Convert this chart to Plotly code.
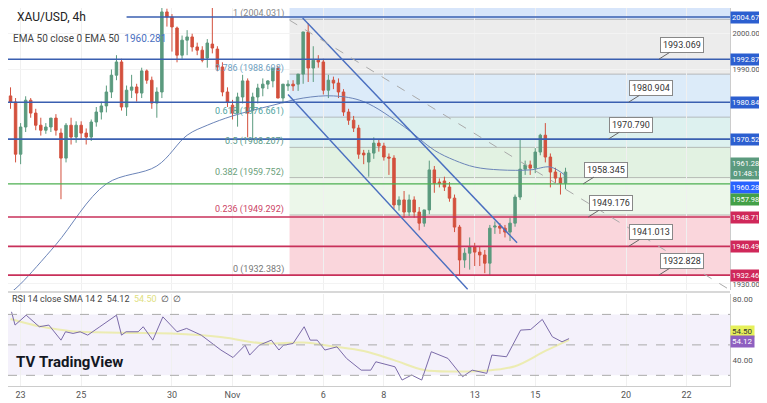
import plotly.graph_objects as go

# 4h candles, index 0 = Oct 23 00:00
opens = [1982.6, 1980.9, 1966.3, 1973.9, 1981.4, 1977.8, 1974.4, 1973.0, 1973.9, 1976.4,
         1972.2, 1965.2, 1974.4, 1971.1, 1974.4, 1972.2, 1971.1, 1975.3, 1978.1, 1979.8,
         1983.7, 1988.4, 1992.1, 1979.5, 1984.2, 1985.1, 1983.4, 1989.6, 1987.0, 1980.6,
         1983.7, 2006.1, 2004.7, 2001.6, 1994.0, 1998.2, 1999.1, 1996.3, 1995.4, 1993.2,
         1997.1, 1995.7, 1990.7, 1983.7, 1980.0, 1977.8, 1982.3, 1986.8, 1978.6, 1982.3,
         1984.8, 1985.9, 1986.8, 1990.4, 1982.0, 1985.4, 1985.9, 1985.9, 1988.7, 2000.5,
         1990.4, 1992.6, 1992.1, 1984.2, 1987.0, 1986.2, 1983.7, 1978.1, 1975.8, 1973.6,
         1966.6, 1964.1, 1966.6, 1969.4, 1968.6, 1965.5, 1965.2, 1952.1, 1953.5, 1950.1,
         1953.5, 1950.1, 1947.0, 1950.7, 1961.9, 1958.5, 1958.8, 1957.1, 1954.0, 1945.9,
         1936.7, 1938.6, 1940.3, 1938.9, 1938.1, 1935.8, 1945.9, 1946.2, 1945.6, 1944.5,
         1947.0, 1954.3, 1962.1, 1963.3, 1962.4, 1966.9, 1971.6, 1965.5, 1961.3, 1959.6,
         1958.2]
closes = [1980.9, 1966.3, 1973.9, 1981.4, 1977.8, 1974.4, 1973.0, 1973.9, 1976.4, 1973.0,
          1965.2, 1974.4, 1971.1, 1974.4, 1972.2, 1971.1, 1975.3, 1978.1, 1979.8, 1983.7,
          1988.4, 1992.1, 1979.5, 1984.2, 1985.1, 1983.4, 1989.6, 1987.0, 1980.6, 1983.7,
          2006.1, 2004.7, 2001.9, 1994.0, 1998.2, 1999.1, 1996.3, 1995.4, 1992.6, 1997.4,
          1996.0, 1990.7, 1983.7, 1980.9, 1977.8, 1982.3, 1986.8, 1977.8, 1982.3, 1984.8,
          1985.9, 1986.8, 1990.4, 1982.0, 1985.9, 1985.9, 1985.4, 1988.7, 2000.5, 1990.4,
          1992.6, 1992.1, 1984.2, 1987.0, 1986.2, 1983.7, 1978.1, 1975.8, 1973.6, 1966.3,
          1966.1, 1966.6, 1969.4, 1968.6, 1965.5, 1965.2, 1952.1, 1953.5, 1950.1, 1953.5,
          1950.1, 1947.0, 1950.7, 1961.9, 1958.2, 1958.2, 1957.1, 1954.0, 1945.9, 1936.7,
          1938.6, 1940.3, 1938.9, 1938.1, 1935.8, 1945.6, 1946.2, 1945.6, 1944.5, 1947.0,
          1954.3, 1962.1, 1963.3, 1962.4, 1966.9, 1971.6, 1965.5, 1961.3, 1959.6, 1958.2,
          1961.3]
highs = [1985.0, 1982.0, 1975.0, 1982.5, 1982.0, 1979.0, 1976.5, 1975.0, 1975.5, 1977.5,
         1973.5, 1975.0, 1976.5, 1975.5, 1975.5, 1973.5, 1976.0, 1979.5, 1981.0, 1985.5,
         1990.0, 1994.0, 1993.0, 1985.5, 1988.5, 1986.0, 1990.5, 1990.0, 1988.0, 1985.0,
         2009.0, 2007.0, 2005.5, 2002.0, 1999.5, 2001.0, 2000.0, 1997.5, 1996.5, 1998.5,
         2009.0, 1996.5, 1992.0, 1985.0, 1981.5, 1983.5, 1988.5, 1987.5, 1983.5, 1986.0,
         1987.5, 1987.0, 1988.0, 1991.0, 1984.5, 1987.0, 1987.0, 1987.0, 1990.5, 2003.0,
         1996.5, 1994.0, 1993.0, 1988.5, 1988.0, 1987.5, 1984.5, 1979.0, 1977.0, 1974.5,
         1967.5, 1967.5, 1971.0, 1970.5, 1969.5, 1966.5, 1966.0, 1954.5, 1956.0, 1955.0,
         1954.5, 1951.5, 1950.0, 1964.5, 1963.0, 1959.5, 1960.0, 1958.5, 1955.0, 1946.5,
         1940.0, 1943.0, 1941.5, 1940.5, 1939.5, 1946.5, 1947.5, 1947.0, 1946.5, 1948.5,
         1955.0, 1970.5, 1964.5, 1964.5, 1968.0, 1972.0, 1975.0, 1966.5, 1962.5, 1961.0,
         1962.5]
lows = [1979.0, 1964.0, 1963.5, 1972.5, 1976.5, 1973.0, 1971.5, 1972.0, 1972.5, 1971.5,
        1953.7, 1964.0, 1969.0, 1969.5, 1970.5, 1969.0, 1970.0, 1974.0, 1976.0, 1978.0,
        1982.0, 1987.0, 1978.5, 1977.0, 1982.0, 1981.0, 1982.0, 1986.0, 1979.0, 1976.5,
        1982.0, 2002.0, 1995.0, 1992.0, 1993.0, 1994.0, 1995.0, 1994.0, 1992.0, 1990.5,
        1994.5, 1989.5, 1982.5, 1979.5, 1976.0, 1974.0, 1980.5, 1971.0, 1970.3, 1980.5,
        1982.5, 1984.5, 1985.0, 1982.5, 1980.5, 1984.0, 1984.0, 1984.0, 1986.0, 1986.5,
        1986.5, 1990.5, 1983.0, 1982.0, 1984.5, 1982.0, 1977.0, 1974.5, 1972.5, 1965.0,
        1963.5, 1960.0, 1965.0, 1967.0, 1964.5, 1960.5, 1951.0, 1950.5, 1948.5, 1949.0,
        1948.5, 1945.0, 1946.0, 1949.5, 1955.5, 1957.0, 1956.0, 1953.0, 1944.5, 1932.4,
        1934.5, 1934.0, 1935.0, 1935.0, 1933.0, 1932.4, 1944.0, 1944.0, 1943.0, 1942.0,
        1946.0, 1953.5, 1960.5, 1960.5, 1961.0, 1966.0, 1964.0, 1957.0, 1958.0, 1955.0,
        1956.5]

ema_x = [-2, 0, 7, 17, 27, 33, 37, 42, 50, 56, 62, 68, 76, 82, 86, 90, 95, 101, 105, 108]
ema_y = [1927.5, 1930.0, 1941.0, 1958.0, 1963.0, 1971.6, 1974.4, 1977.0, 1980.0, 1982.0,
         1982.6, 1981.0, 1974.0, 1967.4, 1964.6, 1962.7, 1961.9, 1961.9, 1962.7, 1960.3]

rsi_x = [-1.8, -1.1, 1.1, 3.7, 5.6, 8.0, 8.9, 10.4, 11.8, 13.3, 15.7, 19.0, 20.0, 20.9, 23.3,
         24.3, 26.2, 28.2, 31.0, 32.9, 35.8, 39.7, 42.1, 44.5, 45.4, 47.3, 49.7, 51.2, 52.1,
         54.0, 56.2, 57.4, 58.8, 60.3, 62.7, 64.6, 67.5, 69.4, 70.4, 74.2, 75.6, 77.5, 79.5,
         81.4, 84.7, 87.6, 89.5, 92.4, 93.4, 96.3, 99.1, 101.1, 103.4, 105.4, 107.3, 108.7]
rsi_y = [71.7, 63.0, 69.5, 61.9, 63.0, 53.1, 58.6, 57.5, 58.6, 56.4, 61.9, 69.5, 56.4, 58.6,
         58.6, 61.9, 53.1, 68.4, 58.6, 60.8, 56.4, 46.6, 41.7, 49.8, 43.3, 49.8, 53.1, 46.6,
         49.8, 50.9, 61.9, 53.1, 53.1, 46.6, 48.7, 41.1, 33.4, 33.4, 38.9, 35.6, 26.9, 30.2,
         26.9, 45.5, 41.1, 29.1, 33.4, 31.3, 43.3, 42.2, 59.7, 60.1, 66.7, 55.3, 52.0, 54.12]
sma_x = [-2, 4, 10, 20, 30, 40, 48, 56, 62, 68, 74, 80, 86, 92, 98, 104, 108.7]
sma_y = [67.0, 62.0, 59.0, 58.0, 57.5, 55.0, 51.0, 51.5, 49.0, 46.0, 40.0, 33.5, 32.5, 33.0,
         36.0, 46.0, 53.3]

tick_pos = [0, 12, 30, 42, 60, 72, 90, 102, 120, 132]
tick_text = ["23", "25", "30", "Nov", "6", "8", "13", "15", "20", "22"]

fib_levels = [2004.031, 1988.698, 1976.661, 1968.207, 1959.752, 1949.292, 1932.383]
fib_names = ["1", "0.786", "0.618", "0.5", "0.382", "0.236", "0"]
fib_text_col = ["#888", "#6f9fbf", "#4fa3a0", "#5a9a8a", "#6aa07a", "#cc4466", "#777"]
fib_fill = ["rgba(200,200,200,0.35)", "rgba(140,190,235,0.3)", "rgba(120,200,190,0.25)",
            "rgba(150,210,150,0.28)", "rgba(180,225,170,0.25)", "rgba(240,120,140,0.3)"]

blue_levels = [2004.673, 1992.875, 1980.840, 1970.521]
red_levels = [1948.717, 1940.490, 1932.467]
green_level = 1957.986

callouts = [(1993.069, 131, 1992.875), (1980.904, 125, 1980.84), (1970.790, 121, 1970.521),
            (1958.345, 116, 1957.986), (1949.176, 117, 1948.717), (1941.013, 125, 1940.49),
            (1932.828, 131, 1932.467)]

XMIN, XMAX = -2.5, 140.6
FIB_X0 = 53.3

fig = go.Figure()
fig.add_trace(go.Candlestick(
    x=list(range(-2, -2 + len(opens))), open=opens, high=highs, low=lows, close=closes,
    increasing=dict(line=dict(color="#5b9a7e", width=1), fillcolor="#5b9a7e"),
    decreasing=dict(line=dict(color="#d3503d", width=1), fillcolor="#d3503d"),
    whiskerwidth=0, xaxis="x", yaxis="y", showlegend=False))
fig.add_trace(go.Scatter(x=ema_x, y=ema_y, mode="lines", line=dict(color="#6b84b8", width=1, shape="spline"),
                         xaxis="x", yaxis="y", showlegend=False))
fig.add_trace(go.Scatter(x=sma_x, y=sma_y, mode="lines", line=dict(color="rgba(235,235,170,0.9)", width=2, shape="spline"),
                         xaxis="x", yaxis="y2", showlegend=False))
fig.add_trace(go.Scatter(x=rsi_x, y=rsi_y, mode="lines", line=dict(color="#7a6aa8", width=1),
                         xaxis="x", yaxis="y2", showlegend=False))

shapes = []
# fib zones
shapes.append(dict(type="rect", xref="x", yref="y", x0=FIB_X0, x1=XMAX, y0=fib_levels[0], y1=2010,
                   fillcolor="rgba(140,180,240,0.35)", line_width=0, layer="below"))
for i in range(6):
    shapes.append(dict(type="rect", xref="x", yref="y", x0=FIB_X0, x1=XMAX, y0=fib_levels[i + 1],
                       y1=fib_levels[i], fillcolor=fib_fill[i], line_width=0, layer="below"))
for lv in fib_levels:
    shapes.append(dict(type="line", xref="x", yref="y", x0=FIB_X0, x1=XMAX, y0=lv, y1=lv,
                       line=dict(color="rgba(150,150,150,0.6)", width=1), layer="below"))
for lv in blue_levels:
    shapes.append(dict(type="line", xref="x", yref="y", x0=21 if lv == blue_levels[0] else XMIN,
                       x1=XMAX, y0=lv, y1=lv, line=dict(color="#3a5fb0", width=1.6)))
for lv in red_levels:
    shapes.append(dict(type="line", xref="x", yref="y", x0=XMIN, x1=XMAX, y0=lv, y1=lv,
                       line=dict(color="#c8305a", width=1.6)))
shapes.append(dict(type="line", xref="x", yref="y", x0=XMIN, x1=XMAX, y0=green_level, y1=green_level,
                   line=dict(color="#4caf50", width=1.4)))
# channel lines and dashed diagonal
shapes.append(dict(type="line", xref="x", yref="y", x0=55.9, y0=2004.4, x1=98.4, y1=1941.5,
                   line=dict(color="#4a6fc0", width=1.4)))
shapes.append(dict(type="line", xref="x", yref="y", x0=53.0, y0=1983.0, x1=88.6, y1=1928.5,
                   line=dict(color="#4a6fc0", width=1.4)))
shapes.append(dict(type="line", xref="x", yref="y", x0=53.3, y0=2003.8, x1=140.6, y1=1928.3,
                   line=dict(color="#aaaaaa", width=1, dash="dash")))
# rsi band
shapes.append(dict(type="rect", xref="x", yref="y2", x0=XMIN, x1=XMAX, y0=30, y1=70,
                   fillcolor="rgba(150,120,220,0.1)", line_width=0, layer="below"))
for lv in [70, 50, 30]:
    shapes.append(dict(type="line", xref="x", yref="y2", x0=XMIN, x1=XMAX, y0=lv, y1=lv,
                       line=dict(color="#aaaaaa", width=1, dash="dash")))
# pane separator
shapes.append(dict(type="line", xref="paper", yref="paper", x0=0, x1=1, y0=0.249, y1=0.249,
                   line=dict(color="#d8d8d8", width=2)))

ann = []
ann.append(dict(text="XAU/USD, 4h", x=0.01, y=1.0, xref="paper", yref="paper", xanchor="left",
                yanchor="top", showarrow=False, font=dict(size=12, color="#222")))
ann.append(dict(text="EMA 50 close 0 EMA 50  <span style='color:#4a6fc0'>1960.281</span>", x=0.004, y=0.94,
                xref="paper", yref="paper", xanchor="left", yanchor="top", showarrow=False,
                font=dict(size=10, color="#444")))
ann.append(dict(text="RSI 14 close SMA 14 2  54.12  <span style='color:#e0e080'>54.50</span>  ∅  ∅", x=0.003, y=0.212,
                xref="paper", yref="paper", xanchor="left", showarrow=False, font=dict(size=9, color="#444")))
ann.append(dict(text="<b>TV</b> <b>TradingView</b>", x=0.008, y=0.035, xref="paper", yref="paper",
                xanchor="left", showarrow=False, font=dict(size=15, color="#131722")))
for lv, nm, col in zip(fib_levels, fib_names, fib_text_col):
    ann.append(dict(text=f"{nm} ({lv:.3f})", x=52.5, y=lv, xref="x", yref="y", xanchor="right",
                    yanchor="bottom", yshift=-2, showarrow=False, font=dict(size=9, color=col)))
for val, xx, lv in callouts:
    ann.append(dict(text=f"{val:.3f}", x=xx - 4.5, y=lv, xref="x", yref="y", ax=xx, ay=lv + 4,
                    axref="x", ayref="y", showarrow=True, arrowhead=0, arrowcolor="#666", arrowwidth=1,
                    bgcolor="white", bordercolor="#888", borderwidth=1, borderpad=2,
                    font=dict(size=9, color="#333")))
right_labels = [(2004.673, "#2c5fd0"), (1992.875, "#2c5fd0"), (1980.840, "#2c5fd0"), (1970.521, "#2c5fd0"),
                (1961.285, "#5b9a7e"), (1960.281, "#2962ff"), (1957.986, "#43a047"),
                (1948.717, "#d0285a"), (1940.490, "#d0285a"), (1932.467, "#d0285a")]
for lv, col in right_labels:
    yy = lv
    if lv == 1961.285:
        yy = 1962.3
    if lv == 1960.281:
        yy = 1956.9
    if lv == 1957.986:
        yy = 1953.6
    txt = f"{lv:.3f}"
    if lv == 1961.285:
        txt = "1961.285<br>01:48:15"
    ann.append(dict(text=txt, x=1.0, y=yy, xref="paper", yref="y", xanchor="left", showarrow=False,
                    bgcolor=col, font=dict(size=7.5, color="white"), borderpad=1))
ann.append(dict(text="54.50", x=1.0, y=59, xref="paper", yref="y2", xanchor="left", showarrow=False,
                bgcolor="#e6f05a", font=dict(size=8, color="#333"), borderpad=1))
ann.append(dict(text="54.12", x=1.0, y=52, xref="paper", yref="y2", xanchor="left", showarrow=False,
                bgcolor="#8e5fc0", font=dict(size=8, color="white"), borderpad=1))

fig.update_layout(
    width=759, height=395, margin=dict(l=0, r=37, t=0, b=17),
    paper_bgcolor="white", plot_bgcolor="white",
    shapes=shapes, annotations=ann, showlegend=False,
    xaxis=dict(range=[XMIN, XMAX], tickvals=tick_pos, ticktext=tick_text, rangeslider=dict(visible=False),
               showgrid=True, gridcolor="#f0f0f0", tickfont=dict(size=9, color="#555"), zeroline=False,
               showline=True, linecolor="#ccc", anchor="y2"),
    yaxis=dict(domain=[0.254, 1], range=[1928.3, 2007.2], side="right", tickvals=[2000, 1990, 1930],
               ticktext=["2000.000", "1990.000", "1930.000"], tickfont=dict(size=7.5, color="#555"),
               showgrid=True, gridcolor="#f3f3f3", zeroline=False, showline=True, linecolor="#ccc"),
    yaxis2=dict(domain=[0, 0.243], range=[23, 83.3], side="right", tickvals=[80, 40],
                ticktext=["80.00", "40.00"], tickfont=dict(size=8, color="#555"),
                showgrid=False, zeroline=False, showline=True, linecolor="#ccc"),
    font=dict(family="Roboto"),
)
fig.write_html("out.html")
